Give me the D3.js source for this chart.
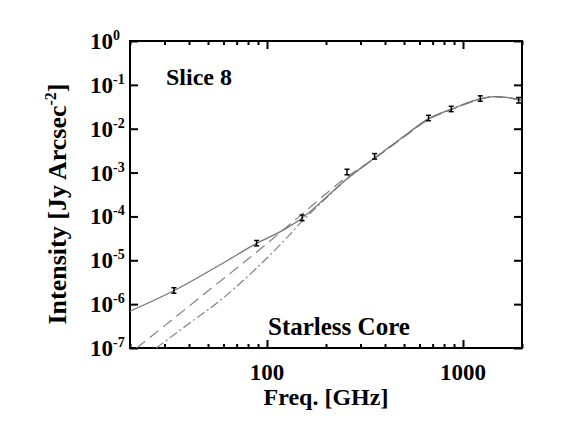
<!DOCTYPE html>
<html>
<head>
<meta charset="utf-8">
<script src="https://cdn.jsdelivr.net/npm/d3@7"></script>
<style>
  body { margin: 0; background: #fff; }
  text { font-family: "Liberation Serif", "Times New Roman", serif; font-weight: bold; }
</style>
</head>
<body>
<div id="chart"></div>
<script>
// dados (Slice 8, Starless Core)
const freqObs = [33.5, 88.5, 151, 256, 354, 667, 871, 1225, 1922];
const intObs  = [2.07e-6, 2.48e-5, 9.4e-5, 1.04e-3, 2.37e-3, 1.77e-2, 2.85e-2, 4.92e-2, 4.5e-2];
const errObs  = [3e-7, 3.5e-6, 1.4e-5, 1.5e-4, 3.4e-4, 2.5e-3, 4e-3, 7e-3, 6.5e-3];

// ajuste total (linha cheia)
const fitFreq  = [20, 34, 60, 88, 124, 150, 200, 250, 357, 508, 667, 872, 1226, 1432, 1700, 2000];
const fitTotal = [6.9e-7, 2.1e-6, 8.8e-6, 2.4e-5, 5.2e-5, 9.0e-5, 2.7e-4, 6.6e-4, 2.2e-3, 7.1e-3, 1.7e-2, 2.8e-2, 4.8e-2, 5.4e-2, 5.1e-2, 4.4e-2];

// componente tracejada
const dashFreq = [21.6, 30, 50, 88, 124, 150, 200, 250, 357, 508, 667, 872, 1226, 1432, 1700, 2000];
const dashInt  = [1e-7, 3.2e-7, 2.0e-6, 1.5e-5, 5.4e-5, 1.1e-4, 3.3e-4, 7.4e-4, 2.15e-3, 6.8e-3, 1.63e-2, 2.7e-2, 4.7e-2, 5.35e-2, 5.1e-2, 4.4e-2];

// componente traço-ponto
const ddFreq = [27.2, 40, 60, 88, 124, 150, 200, 250, 357, 508, 667, 872, 1226, 1432, 1700, 2000];
const ddInt  = [1e-7, 3.6e-7, 1.4e-6, 6.5e-6, 3.0e-5, 7.5e-5, 2.6e-4, 6.5e-4, 2.2e-3, 7.0e-3, 1.68e-2, 2.78e-2, 4.8e-2, 5.4e-2, 5.1e-2, 4.4e-2];

// ticks
const xMajor = [100, 1000];
const xMinor = [20, 30, 40, 50, 60, 70, 80, 90, 200, 300, 400, 500, 600, 700, 800, 900, 2000];
const yMajor = [1, 1e-1, 1e-2, 1e-3, 1e-4, 1e-5, 1e-6, 1e-7];
const yExp   = [0, -1, -2, -3, -4, -5, -6, -7];

const W = 561, H = 432;
const plot = {left: 130, right: 522, top: 41, bottom: 348};

const svg = d3.select("#chart")
  .append("svg")
    .attr("width", W)
    .attr("height", H);

const x = d3.scaleLog().domain([20, 2000]).range([plot.left, plot.right]);
const y = d3.scaleLog().domain([1e-7, 1]).range([plot.bottom, plot.top]);

svg.append("clipPath").attr("id", "clip")
  .append("rect")
    .attr("x", plot.left).attr("y", plot.top)
    .attr("width", plot.right - plot.left)
    .attr("height", plot.bottom - plot.top);

// eixos com ticks para dentro
function drawAxis(axis, transform) {
  const g = svg.append("g").attr("transform", transform).call(axis);
  g.select(".domain").remove();
  g.selectAll(".tick line").attr("stroke", "#000").attr("stroke-width", 2);
  g.selectAll(".tick text").remove();
  return g;
}
drawAxis(d3.axisBottom(x).tickValues(xMajor).tickSize(-8), `translate(0,${plot.bottom})`);
drawAxis(d3.axisBottom(x).tickValues(xMinor).tickSize(-4), `translate(0,${plot.bottom})`);
drawAxis(d3.axisTop(x).tickValues(xMajor).tickSize(-8), `translate(0,${plot.top})`);
drawAxis(d3.axisTop(x).tickValues(xMinor).tickSize(-4), `translate(0,${plot.top})`);
drawAxis(d3.axisLeft(y).tickValues(yMajor).tickSize(-8), `translate(${plot.left},0)`);
drawAxis(d3.axisRight(y).tickValues(yMajor).tickSize(-8), `translate(${plot.right},0)`);

// moldura
svg.append("rect")
  .attr("x", plot.left).attr("y", plot.top)
  .attr("width", plot.right - plot.left)
  .attr("height", plot.bottom - plot.top)
  .attr("fill", "none")
  .attr("stroke", "#000")
  .attr("stroke-width", 2);

// rótulos do eixo x
svg.selectAll(".xlab")
  .data(xMajor)
  .join("text")
    .attr("x", d => x(d))
    .attr("y", 380)
    .attr("text-anchor", "middle")
    .attr("font-size", 23)
    .text(d => d);

// rótulos do eixo y (10^n)
svg.selectAll(".ylab")
  .data(yMajor)
  .join("text")
    .attr("x", 113)
    .attr("y", d => y(d) + 8)
    .attr("text-anchor", "end")
    .attr("font-size", 23)
    .text("10");
svg.selectAll(".ysup")
  .data(yMajor)
  .join("text")
    .attr("x", 113)
    .attr("y", d => y(d) - 1)
    .attr("font-size", 14)
    .text((d, i) => yExp[i]);

// títulos
svg.append("text")
  .attr("x", 326).attr("y", 405)
  .attr("text-anchor", "middle")
  .attr("font-size", 24)
  .text("Freq. [GHz]");

const ylab = svg.append("text")
  .attr("transform", "translate(66,204) rotate(-90)")
  .attr("text-anchor", "middle")
  .attr("font-size", 26);
ylab.append("tspan").text("Intensity [Jy Arcsec");
ylab.append("tspan").attr("dy", -10).attr("font-size", 16).text("-2");
ylab.append("tspan").attr("dy", 10).text("]");

svg.append("text")
  .attr("x", 166).attr("y", 85)
  .attr("font-size", 24)
  .text("Slice 8");

svg.append("text")
  .attr("x", 268).attr("y", 335)
  .attr("font-size", 25)
  .text("Starless Core");

// curvas
const line = d3.line()
  .x(d => x(d[0]))
  .y(d => y(d[1]))
  .curve(d3.curveMonotoneX);

const curves = svg.append("g").attr("clip-path", "url(#clip)");

curves.append("path")
  .datum(d3.zip(ddFreq, ddInt))
  .attr("d", line)
  .attr("fill", "none")
  .attr("stroke", "#808080")
  .attr("stroke-width", 1.2)
  .attr("stroke-dasharray", "9,3,2,3");

curves.append("path")
  .datum(d3.zip(dashFreq, dashInt))
  .attr("d", line)
  .attr("fill", "none")
  .attr("stroke", "#808080")
  .attr("stroke-width", 1.2)
  .attr("stroke-dasharray", "11,6");

curves.append("path")
  .datum(d3.zip(fitFreq, fitTotal))
  .attr("d", line)
  .attr("fill", "none")
  .attr("stroke", "#777")
  .attr("stroke-width", 1.3);

// pontos com barras de erro
const pts = svg.append("g")
  .selectAll("g")
  .data(d3.zip(freqObs, intObs, errObs))
  .join("g");

pts.append("line")
  .attr("x1", d => x(d[0])).attr("x2", d => x(d[0]))
  .attr("y1", d => y(d[1] - d[2])).attr("y2", d => y(d[1] + d[2]))
  .attr("stroke", "#000").attr("stroke-width", 1.5);
pts.append("line")
  .attr("x1", d => x(d[0]) - 2.5).attr("x2", d => x(d[0]) + 2.5)
  .attr("y1", d => y(d[1] - d[2])).attr("y2", d => y(d[1] - d[2]))
  .attr("stroke", "#000").attr("stroke-width", 1.5);
pts.append("line")
  .attr("x1", d => x(d[0]) - 2.5).attr("x2", d => x(d[0]) + 2.5)
  .attr("y1", d => y(d[1] + d[2])).attr("y2", d => y(d[1] + d[2]))
  .attr("stroke", "#000").attr("stroke-width", 1.5);
</script>
</body>
</html>
